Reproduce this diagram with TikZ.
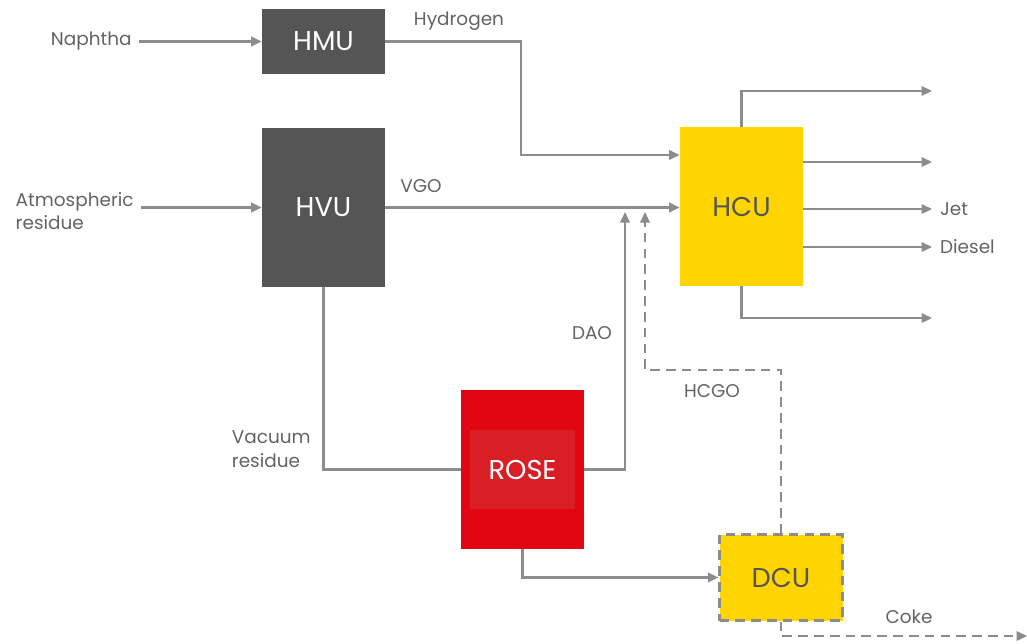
\documentclass[tikz,border=0pt]{standalone}
\usepackage{fontspec}
\setmainfont{Poppins}
\usetikzlibrary{arrows.meta}
\definecolor{unitgray}{HTML}{555555}
\definecolor{unityellow}{HTML}{FFD400}
\definecolor{unitred}{HTML}{E20613}
\definecolor{unitredin}{HTML}{D91F26}
\definecolor{linegray}{HTML}{8C8C8C}
\definecolor{txtgray}{HTML}{636363}

\begin{document}
\begin{tikzpicture}[x=0.02cm,y=-0.02cm,
  unit/.style={inner sep=0pt,font=\fontsize{15.5}{15.5}\selectfont},
  lbl/.style={text=txtgray,font=\fontsize{10.5}{13.5}\selectfont,inner sep=4pt},
  flow/.style={draw=linegray,line width=1.25pt,-{Triangle[length=0.21cm,width=0.19cm]}},
  pipe/.style={draw=linegray,line width=1.25pt},
  dflow/.style={flow,dash pattern=on 5.5pt off 3.5pt}]
  \useasboundingbox (0,0) rectangle (1027,643);
  % units
  \node[unit,fill=unitgray,text=white,minimum width=2.46cm,minimum height=1.3cm] (hmu) at (323.5,41.5) {HMU};
  \node[unit,fill=unitgray,text=white,minimum width=2.46cm,minimum height=3.18cm] (hvu) at (323.5,207.5) {HVU};
  \node[unit,fill=unityellow,text=unitgray,minimum width=2.46cm,minimum height=3.18cm] (hcu) at (741.5,206.5) {HCU};
  \node[unit,fill=unitred,minimum width=2.46cm,minimum height=3.18cm] (rose) at (522.5,469.5) {};
  \node[unit,fill=unitredin,text=white,minimum width=2.1cm,minimum height=1.58cm] (rosein) at (522.5,469.5) {ROSE};
  \node[unit,fill=unityellow,text=unitgray,draw=linegray,line width=1.25pt,dash pattern=on 5.5pt off 3.5pt,
    minimum width=2.46cm,minimum height=1.72cm] (dcu) at (781,577.5) {DCU};
  % feeds
  \node[lbl,anchor=east] (naphtha) at (139,41.5) {Naphtha};
  \node[lbl,anchor=east,align=left] (atres) at (141,211) {Atmospheric\\residue};
  \draw[flow] (naphtha.east |- hmu.west) -- (hmu.west);
  \draw[flow] (atres.east |- hvu.west) -- (hvu.west);
  % hydrogen and VGO
  \coordinate (hyd) at (521,155);
  \draw[flow] (hmu.east) -| (hyd) -- (hyd -| hcu.west);
  \node[lbl] at (459,21) {Hydrogen};
  \draw[flow] (hvu.east) -- (hvu.east -| hcu.west);
  \node[lbl] at (421,186) {VGO};
  % HCU products
  \coordinate (p1) at (932,91);
  \coordinate (p2) at (932,162);
  \coordinate (p3) at (932,209);
  \coordinate (p4) at (932,247);
  \coordinate (p5) at (932,318);
  \draw[flow] (hcu.north) |- (p1);
  \draw[flow] (hcu.east |- p2) -- (p2);
  \draw[flow] (hcu.east |- p3) -- (p3) node[lbl,right] {Jet};
  \draw[flow] (hcu.east |- p4) -- (p4) node[lbl,right] {Diesel};
  \draw[flow] (hcu.south) |- (p5);
  % vacuum residue to ROSE
  \draw[pipe] (hvu.south) |- (rose.west);
  \node[lbl,anchor=east,align=left] at (318,449) {Vacuum\\residue};
  % DAO and HCGO back to HCU
  \coordinate (dao) at (625,212);
  \draw[flow] (rose.east |- rosein.east) -| (dao);
  \node[lbl] at (592,333) {DAO};
  \coordinate (hk) at (645,370);
  \coordinate (hcgo) at (645,212);
  \draw[dflow] (dcu.north) |- (hk) -- (hcgo);
  \node[lbl] at (712,391) {HCGO};
  % ROSE pitch to DCU, coke
  \draw[flow] (rose.south) |- (dcu.west);
  \coordinate (coke) at (1027,636);
  \draw[dflow] (dcu.south) |- (coke);
  \node[lbl] at (909,617) {Coke};
\end{tikzpicture}
\end{document}
